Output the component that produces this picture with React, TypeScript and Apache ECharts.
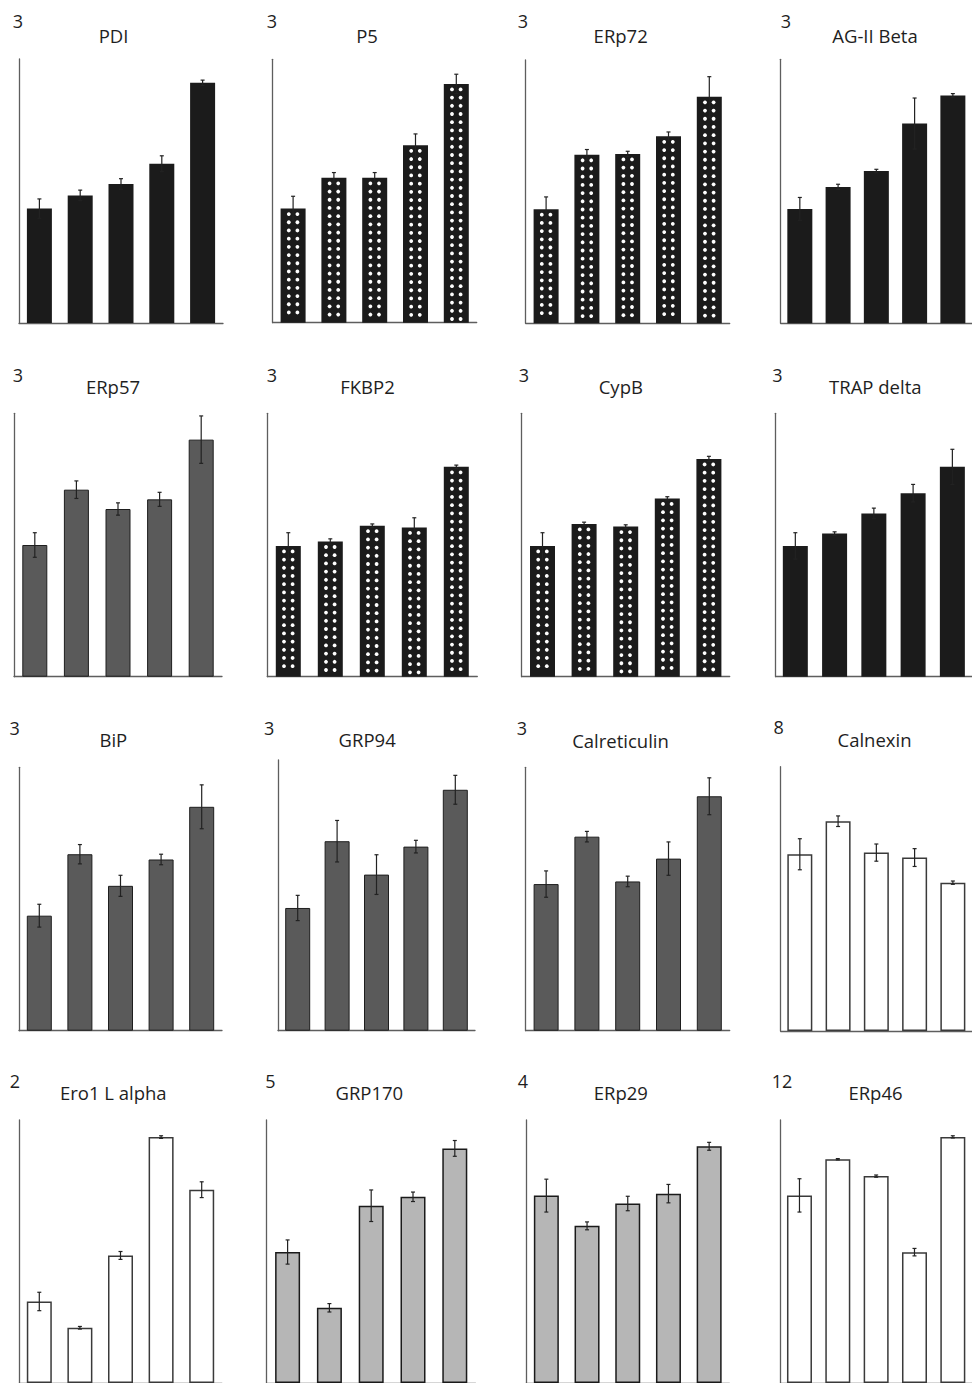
import React, { useEffect, useRef } from "react";
import * as echarts from "echarts";

// ---------- data ----------
const categories = ["1", "2", "3", "4", "5"];

const pdiMeans = [1.3, 1.45, 1.58, 1.81, 2.73];
const pdiErrors = [0.11, 0.06, 0.06, 0.09, 0.03];
const p5Means = [1.3, 1.65, 1.65, 2.02, 2.72];
const p5Errors = [0.14, 0.06, 0.06, 0.13, 0.11];
const erp72Means = [1.3, 1.92, 1.93, 2.13, 2.58];
const erp72Errors = [0.14, 0.06, 0.03, 0.05, 0.23];
const agiiMeans = [1.3, 1.55, 1.73, 2.27, 2.59];
const agiiErrors = [0.13, 0.03, 0.02, 0.29, 0.02];

const erp57Means = [1.5, 2.13, 1.91, 2.02, 2.7];
const erp57Errors = [0.14, 0.1, 0.07, 0.08, 0.27];
const fkbp2Means = [1.49, 1.54, 1.72, 1.7, 2.39];
const fkbp2Errors = [0.15, 0.03, 0.02, 0.11, 0.02];
const cypbMeans = [1.49, 1.74, 1.71, 2.03, 2.48];
const cypbErrors = [0.15, 0.02, 0.02, 0.02, 0.03];
const trapMeans = [1.49, 1.63, 1.86, 2.09, 2.39];
const trapErrors = [0.15, 0.02, 0.06, 0.1, 0.2];

const bipMeans = [1.31, 2.01, 1.65, 1.95, 2.55];
const bipErrors = [0.13, 0.11, 0.12, 0.06, 0.25];
const grp94Means = [1.36, 2.1, 1.73, 2.04, 2.67];
const grp94Errors = [0.14, 0.23, 0.22, 0.07, 0.16];
const calretMeans = [1.67, 2.21, 1.7, 1.96, 2.67];
const calretErrors = [0.15, 0.06, 0.06, 0.19, 0.21];
const calnexMeans = [5.35, 6.35, 5.4, 5.25, 4.49];
const calnexErrors = [0.47, 0.16, 0.26, 0.27, 0.05];

const ero1Means = [0.62, 0.42, 0.97, 1.87, 1.47];
const ero1Errors = [0.07, 0.01, 0.03, 0.01, 0.06];
const grp170Means = [2.49, 1.43, 3.37, 3.54, 4.46];
const grp170Errors = [0.23, 0.08, 0.3, 0.09, 0.15];
const erp29Means = [2.85, 2.39, 2.73, 2.88, 3.6];
const erp29Errors = [0.25, 0.06, 0.11, 0.14, 0.06];
const erp46Means = [8.56, 10.21, 9.44, 5.97, 11.23];
const erp46Errors = [0.76, 0.03, 0.05, 0.17, 0.05];

const panelNames = [
  "PDI", "P5", "ERp72", "AG-II Beta",
  "ERp57", "FKBP2", "CypB", "TRAP delta",
  "BiP", "GRP94", "Calreticulin", "Calnexin",
  "Ero1 L alpha", "GRP170", "ERp29", "ERp46",
];
const panelMax = [3, 3, 3, 3, 3, 3, 3, 3, 3, 3, 3, 8, 2, 5, 4, 12];
const panelMeans = [
  pdiMeans, p5Means, erp72Means, agiiMeans,
  erp57Means, fkbp2Means, cypbMeans, trapMeans,
  bipMeans, grp94Means, calretMeans, calnexMeans,
  ero1Means, grp170Means, erp29Means, erp46Means,
];
const panelErrors = [
  pdiErrors, p5Errors, erp72Errors, agiiErrors,
  erp57Errors, fkbp2Errors, cypbErrors, trapErrors,
  bipErrors, grp94Errors, calretErrors, calnexErrors,
  ero1Errors, grp170Errors, erp29Errors, erp46Errors,
];

// ---------- styles & layout ----------
const panelFill = [
  "black", "dotted", "dotted", "black",
  "dark", "dotted", "dotted", "black",
  "dark", "dark", "dark", "white",
  "white", "light", "light", "white",
];

const fillStyles: Record<string, any> = {
  black: { color: "#1b1b1b", borderColor: "#1b1b1b", borderWidth: 0 },
  dotted: { color: "#1b1b1b", borderColor: "#1b1b1b", borderWidth: 0 },
  dark: { color: "#5a5a5a", borderColor: "#1e1e1e", borderWidth: 1 },
  light: { color: "#b6b6b6", borderColor: "#1a1a1a", borderWidth: 1.5 },
  white: { color: "#ffffff", borderColor: "#3a3a3a", borderWidth: 1.5 },
};

// [gridLeft, gridTop, gridWidth, gridHeight, titleX, titleY, maxX, maxY]
const layout = [
  [19, 59, 204, 264, 113.5, 35, 17.8, 21],
  [272.7, 59.3, 204, 263.4, 367, 35, 272, 21.3],
  [525.7, 60, 204, 263.3, 620.7, 35, 523, 21],
  [780.7, 59.3, 204, 264, 875, 35.5, 786, 21],
  [14, 413.3, 208, 263.4, 113, 386.5, 18, 375],
  [267.3, 413.3, 210, 263.4, 367.5, 386.5, 272, 375],
  [521.7, 413.3, 208, 263.4, 620.8, 386.5, 523.8, 375],
  [775.7, 413.3, 208.5, 263.4, 875.3, 386.5, 777.5, 375],
  [19, 767.3, 203, 263.4, 113.3, 739, 14.7, 727.8],
  [278, 760, 197, 270.7, 367.2, 739, 269.2, 727.8],
  [525.7, 767.3, 204, 263.4, 620.5, 740, 522, 728.3],
  [780.7, 766.7, 205, 264.3, 874.5, 739.3, 778.7, 726.7],
  [19, 1120, 203, 264, 113.3, 1092, 15, 1081],
  [266.7, 1120, 209, 264, 369.3, 1092, 270.5, 1081],
  [526, 1120, 203.5, 264, 620.8, 1092, 522.8, 1081],
  [780.3, 1120, 203.5, 264, 875.5, 1092, 782, 1081],
];

const FONT = '"Open Sans", "Noto Sans", sans-serif';
const AXIS_COLOR = "#5e5e5e";
const ERR_COLOR = "#222222";
const TEXT_COLOR = "#1e1e1e";
const BAR_WIDTH = 25;

function buildOption() {
  const grid: any[] = [];
  const xAxis: any[] = [];
  const yAxis: any[] = [];
  const series: any[] = [];
  const graphic: any[] = [];

  panelNames.forEach((name, i) => {
    const [gl, gt, gw, gh, tx, ty, mx, my] = layout[i];
    grid.push({ left: gl, top: gt, width: gw, height: gh, containLabel: false });
    xAxis.push({
      type: "category",
      gridIndex: i,
      data: categories,
      boundaryGap: true,
      axisLine: { show: true, lineStyle: { color: AXIS_COLOR, width: 1.3 } },
      axisTick: { show: false },
      axisLabel: { show: false },
      splitLine: { show: false },
    });
    yAxis.push({
      type: "value",
      gridIndex: i,
      min: 0,
      max: panelMax[i],
      axisLine: { show: true, lineStyle: { color: AXIS_COLOR, width: 1.3 } },
      axisTick: { show: false },
      axisLabel: { show: false },
      splitLine: { show: false },
    });

    const fill = panelFill[i];
    series.push({
      type: "bar",
      name,
      xAxisIndex: i,
      yAxisIndex: i,
      barWidth: BAR_WIDTH,
      data: panelMeans[i],
      itemStyle: fillStyles[fill],
      z: 2,
    });

    if (fill === "dotted") {
      series.push({
        type: "custom",
        xAxisIndex: i,
        yAxisIndex: i,
        z: 3,
        silent: true,
        encode: { x: 0, y: 1 },
        data: panelMeans[i].map((m, k) => [k, m]),
        renderItem: (params: any, api: any) => {
          const idx = api.value(0);
          const top = api.coord([idx, api.value(1)]);
          const base = api.coord([idx, 0]);
          const cx = top[0];
          const children: any[] = [];
          for (let y = top[1] + 5.5; y <= base[1] - 2.5; y += 8.2) {
            children.push({
              type: "circle",
              shape: { cx: cx - 4.3, cy: y, r: 1.9 },
              style: { fill: "#ffffff" },
            });
            children.push({
              type: "circle",
              shape: { cx: cx + 4.3, cy: y, r: 1.9 },
              style: { fill: "#ffffff" },
            });
          }
          return { type: "group", children };
        },
      });
    }

    series.push({
      type: "custom",
      xAxisIndex: i,
      yAxisIndex: i,
      z: 4,
      silent: true,
      encode: { x: 0, y: 1 },
      data: panelMeans[i].map((m, k) => [k, m, panelErrors[i][k]]),
      renderItem: (params: any, api: any) => {
        const idx = api.value(0);
        const m = api.value(1);
        const e = api.value(2);
        const pTop = api.coord([idx, m + e]);
        const pBot = api.coord([idx, m - e]);
        const cx = pTop[0];
        const st = { stroke: ERR_COLOR, lineWidth: 1.2 };
        return {
          type: "group",
          children: [
            { type: "line", shape: { x1: cx, y1: pTop[1], x2: cx, y2: pBot[1] }, style: st },
            { type: "line", shape: { x1: cx - 2, y1: pTop[1], x2: cx + 2, y2: pTop[1] }, style: st },
            { type: "line", shape: { x1: cx - 2, y1: pBot[1], x2: cx + 2, y2: pBot[1] }, style: st },
          ],
        };
      },
    });

    graphic.push({
      type: "text",
      x: tx,
      y: ty,
      silent: true,
      style: {
        text: name,
        fill: TEXT_COLOR,
        font: `18.5px ${FONT}`,
        align: "center",
        verticalAlign: "middle",
        textAlign: "center",
        textVerticalAlign: "middle",
      },
    });
    graphic.push({
      type: "text",
      x: mx,
      y: my,
      silent: true,
      style: {
        text: String(panelMax[i]),
        fill: TEXT_COLOR,
        font: `18px ${FONT}`,
        align: "center",
        verticalAlign: "middle",
        textAlign: "center",
        textVerticalAlign: "middle",
      },
    });
  });

  return {
    animation: false,
    backgroundColor: "#ffffff",
    grid,
    xAxis,
    yAxis,
    series,
    graphic,
  };
}

export default function App() {
  const ref = useRef<HTMLDivElement>(null);
  useEffect(() => {
    if (!ref.current) return;
    const chart = echarts.init(ref.current, undefined, { renderer: "svg" });
    chart.setOption(buildOption() as any);
    return () => chart.dispose();
  }, []);
  return (
    <div
      ref={ref}
      style={{ position: "absolute", left: 0, top: 0, width: 972, height: 1383 }}
    />
  );
}
